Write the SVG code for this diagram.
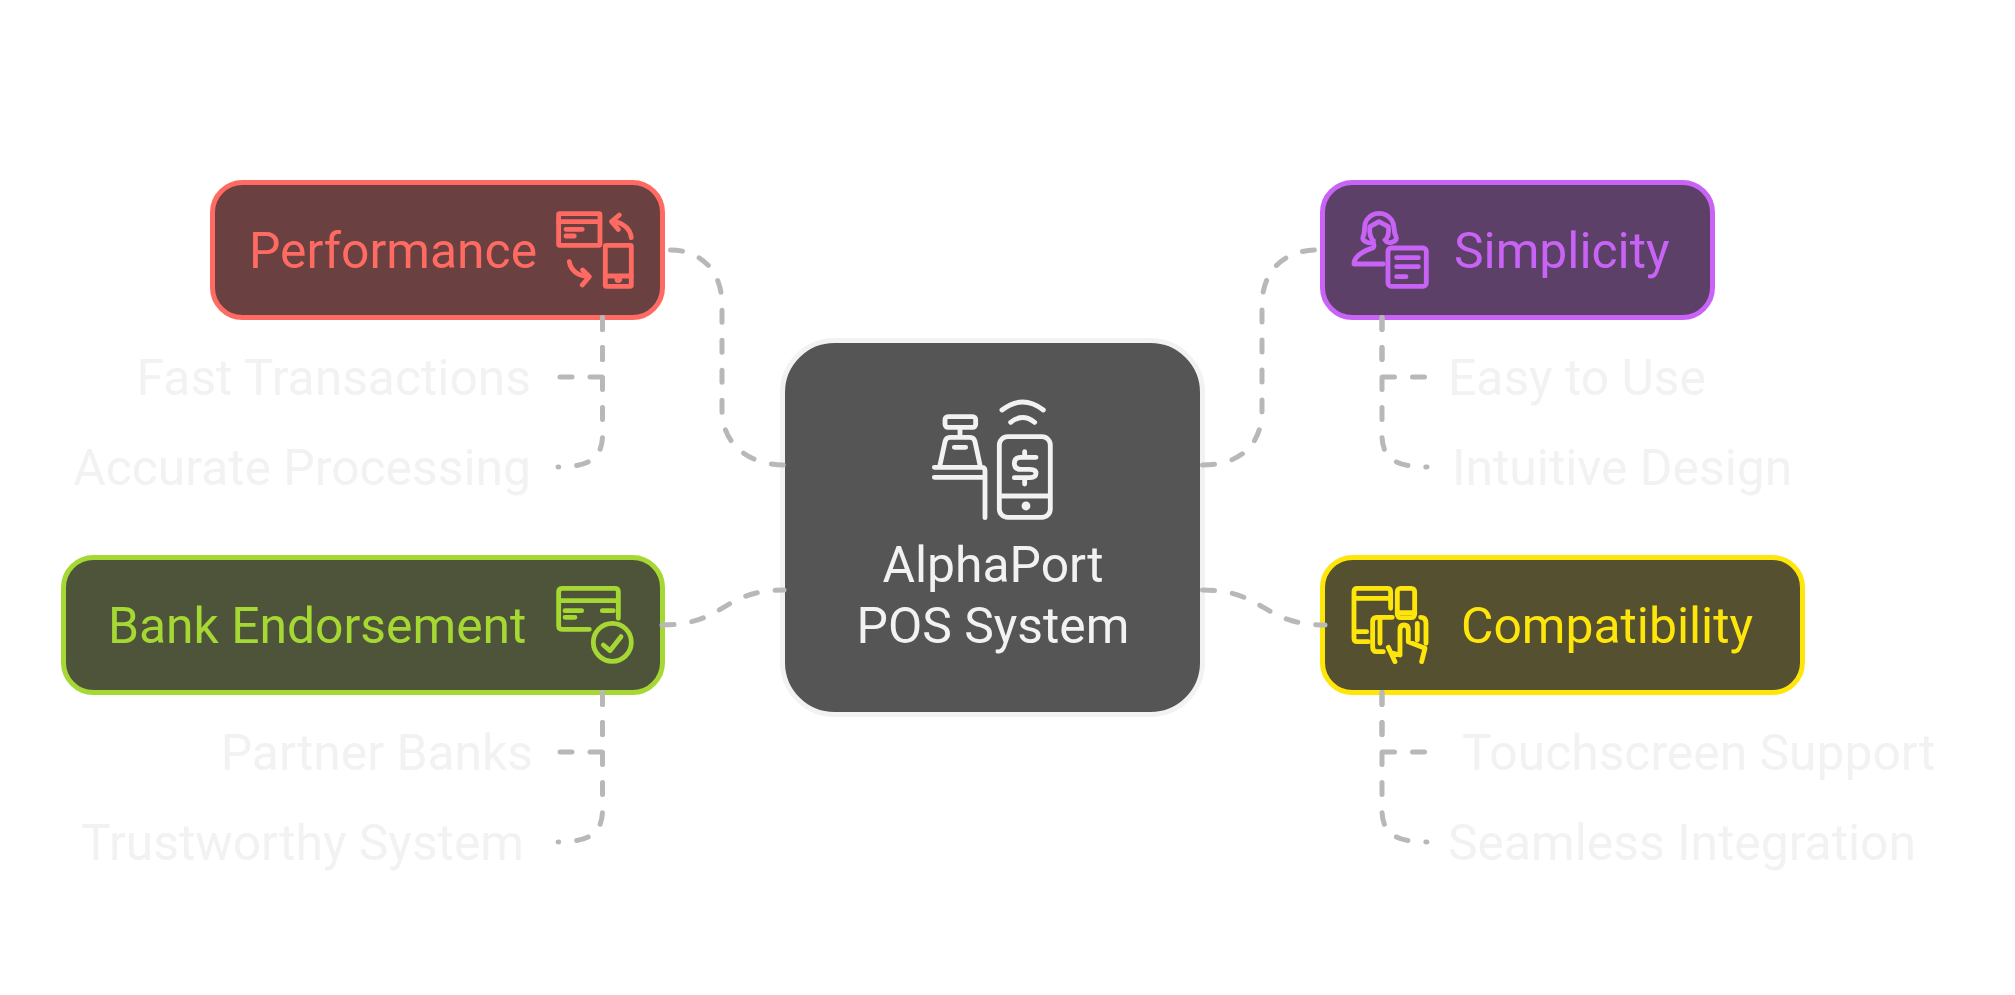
<svg xmlns="http://www.w3.org/2000/svg" width="2015" height="995" viewBox="0 0 2015 995">
<style>
text{font-family:Roboto,"Liberation Sans",sans-serif;font-size:49.800px}
.leaf{fill:#f2f2f2}
.box{stroke-width:5}
.ic{fill:none;stroke-width:14.500;stroke-linecap:round;stroke-linejoin:round}
.r{fill:#6a4040;stroke:#ff6b63}.rt{fill:#ff6b63}.ri{stroke:#ff6b63}
.p{fill:#5c4068;stroke:#c863f5}.pt{fill:#c863f5}.pi{stroke:#c863f5}
.g{fill:#4d5439;stroke:#a5d833}.gt{fill:#a5d833}.gi{stroke:#a5d833}
.y{fill:#555030;stroke:#ffe60a}.yt{fill:#ffe60a}.yi{stroke:#ffe60a}
#connectors path{fill:none;stroke:#b8b8b8;stroke-width:5;stroke-linecap:round;stroke-linejoin:round;stroke-dasharray:12 18}
</style>
<rect width="2015" height="995" fill="#ffffff"/>
<g id="center">
<rect x="782.500" y="340.500" width="420" height="374" rx="52" fill="#555555" stroke="#f2f2f2" stroke-width="5"/>
<g class="ic" stroke="#f2f2f2" transform="translate(900,370) scale(.3333)">
<rect x="135" y="140" width="92" height="32" rx="9"/>
<path d="M180 172V200M120 285L135 215Q138 202 150 202H210Q222 202 225 215L240 285M163 232H197M103 292H245Q255 292 255 302V443M103 322H250"/>
<rect x="298" y="200" width="153" height="242" rx="25"/>
<path d="M300 378H450M306 120Q368 72 430 120M332 157Q368 128 404 157M408 262H362Q343 262 343 280Q343 298 362 298H390Q408 298 408 310Q408 323 390 323H343M374 245V262M374 325V342"/>
<circle cx="378" cy="408" r="6" fill="#f2f2f2"/>
</g>
<text x="993" y="582" text-anchor="middle" fill="#f2f2f2">AlphaPort</text>
<text x="993" y="643" text-anchor="middle" fill="#f2f2f2">POS System</text>
</g>
<g id="performance">
<rect class="box r" x="212.500" y="182.500" width="450" height="135" rx="30"/>
<text class="rt" x="249" y="268">Performance</text>
<g class="ic ri" transform="translate(190,160) scale(.3333)">
<rect x="1106" y="161" width="124" height="95" rx="3"/>
<path d="M1106 185H1230M1128 208H1177M1128 228H1153"/>
<rect x="1246" y="256" width="78" height="123" rx="3"/>
<path d="M1246 348H1324M1324 233Q1320 195 1270 183M1288 165L1265 185L1285 208M1138 305Q1145 345 1195 350M1178 330L1198 350L1177 375"/>
<circle cx="1285" cy="358" r="4" fill="#ff6b63"/>
</g>
</g>
<g id="fast-transactions"><text class="leaf" x="531" y="395" text-anchor="end">Fast Transactions</text></g>
<g id="accurate-processing"><text class="leaf" x="531" y="485" text-anchor="end">Accurate Processing</text></g>
<g id="simplicity">
<rect class="box p" x="1322.500" y="182.500" width="390" height="135" rx="30"/>
<text class="pt" x="1454" y="268">Simplicity</text>
<g class="ic pi" transform="translate(1180,160) scale(.3333)">
<rect x="624" y="264" width="115" height="115" rx="10"/>
<path d="M650 293H715M650 320H715M650 350H678"/>
<path d="M558 245C545 240 548 232 552 222C556 205 550 195 560 180C570 165 585 160 597 160C610 160 625 165 635 180C645 195 640 205 645 222C650 232 652 240 640 245C630 250 620 248 615 240M558 245C565 250 575 250 580 242M575 235C568 225 568 215 570 200L597 185L625 200C627 215 627 225 620 235M610 312H522C522 290 545 275 580 263C585 258 580 250 578 242"/>
</g>
</g>
<g id="easy-to-use"><text class="leaf" x="1448" y="395">Easy to Use</text></g>
<g id="intuitive-design"><text class="leaf" x="1452" y="485">Intuitive Design</text></g>
<g id="bank-endorsement">
<rect class="box g" x="63.500" y="557.500" width="599" height="135" rx="30"/>
<text class="gt" x="108" y="643">Bank Endorsement</text>
<g class="ic gi" transform="translate(520,540) scale(.3333)">
<path d="M295 235V155Q295 145 285 145H128Q116 145 116 155V258Q116 268 128 268H208M120 182H295M135 212H185M135 232H165M247 212H280"/>
<circle cx="277" cy="307" r="57"/>
<path d="M250 315L270 332L303 290"/>
</g>
</g>
<g id="partner-banks"><text class="leaf" x="533" y="770" text-anchor="end">Partner Banks</text></g>
<g id="trustworthy-system"><text class="leaf" x="524" y="860" text-anchor="end">Trustworthy System</text></g>
<g id="compatibility">
<rect class="box y" x="1322.500" y="557.500" width="480" height="135" rx="30"/>
<text class="yt" x="1461" y="643">Compatibility</text>
<g class="ic yi" transform="translate(1180,540) scale(.3333)">
<path d="M632 205V155Q632 145 622 145H532Q522 145 522 155V295Q522 305 532 305H565M525 175H632M525 275H560"/>
<rect x="652" y="145" width="52" height="88" rx="10"/>
<path d="M655 218H702M605 232H590Q578 232 578 245V320Q578 335 590 335H610M600 240V310M605 232H637M625 322L645 365M640 340L660 345V270Q660 255 672 255Q685 255 685 270V305L735 325L725 365M712 250V300M722 232Q738 232 738 250V310"/>
</g>
</g>
<g id="touchscreen-support"><text class="leaf" x="1462" y="770">Touchscreen Support</text></g>
<g id="seamless-integration"><text class="leaf" x="1448" y="860">Seamless Integration</text></g>
<g id="connectors">
<path d="M670.500 250C700 250 722 270 722 305V410C722 445 750 465 784 465"/>
<path d="M1202.500 465C1240 465 1262 445 1262 410V305C1262 270 1285 250 1317 250"/>
<path d="M662 625C725 625 722 590 784 590"/>
<path d="M1202.500 590C1265 590 1262 625 1325 625"/>
<path d="M602.500 317.500V377H558"/>
<path d="M602.500 317.500V435C602.500 458 589.500 467 558 467"/>
<path d="M1382 317.500V377H1427"/>
<path d="M1382 317.500V435C1382 458 1395 467 1427 467"/>
<path d="M602.500 692.500V752H558"/>
<path d="M602.500 692.500V810C602.500 833 589.500 842 558 842"/>
<path d="M1382 692.500V752H1427"/>
<path d="M1382 692.500V810C1382 833 1395 842 1427 842"/>
</g>
</svg>
